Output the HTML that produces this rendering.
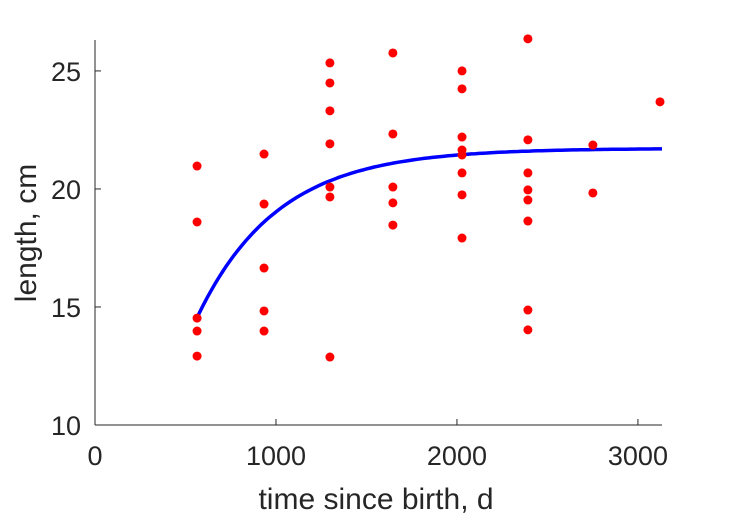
<!DOCTYPE html>
<html><head><meta charset="utf-8"><style>
html,body{margin:0;padding:0;background:#fff;}
svg{display:block;font-family:"Liberation Sans",Arial,sans-serif;}
</style></head><body>
<svg id="chart" width="729" height="521" viewBox="0 0 729 521">
<g id="axes"></g>
<g id="curve"></g>
<g id="pts"></g>
<text x="376" y="509" font-size="30" text-anchor="middle" fill="#262626">time since birth, d</text>
<text transform="translate(36,233) rotate(-90)" font-size="30" text-anchor="middle" fill="#262626">length, cm</text>
</svg>
<script>
const xTicks=[0,1000,2000,3000];
const yTicks=[10,15,20,25];
const ptDays=[564,564,564,564,564,934,934,934,934,934,1298,1298,1298,1298,1298,1298,1298,1646,1646,1646,1646,1646,2028,2028,2028,2028,2028,2028,2028,2028,2392,2392,2392,2392,2392,2392,2392,2392,2751,2751,3122];
const ptLen=[18.6,20.97,12.92,14.53,13.98,21.48,19.36,16.65,14.83,13.98,25.34,24.49,23.31,21.91,20.08,19.66,12.88,25.76,22.33,20.08,19.41,18.47,25.0,24.24,22.2,21.65,21.44,20.68,19.75,17.92,26.36,22.08,20.68,19.96,19.53,18.64,14.87,14.03,21.86,19.83,23.69];
const fitLinf=21.72, fitK=0.00225, fitT0=555, fitL0=14.4, fitTEnd=3133;

const NS="http://www.w3.org/2000/svg";
const X0=95,X1=662,Y0=425,Y1=40;
const xMin=0,xMax=3133,yMin=10,yMax=26.31;
const sx=v=>X0+(v-xMin)/(xMax-xMin)*(X1-X0);
const sy=v=>Y0-(v-yMin)/(yMax-yMin)*(Y0-Y1);
function mk(tag,attrs,parent){const e=document.createElementNS(NS,tag);for(const k in attrs)e.setAttribute(k,attrs[k]);parent.appendChild(e);return e;}
const axes=document.getElementById('axes');
let a=mk('line',{x1:X0,y1:Y0,x2:X1,y2:Y0,stroke:'#262626','stroke-width':1},axes);


a=mk('line',{x1:X0,y1:Y0,x2:X0,y2:Y1,stroke:'#262626','stroke-width':1},axes);


xTicks.forEach(t=>{
 const x=sx(t);
 const l=mk('line',{x1:x,y1:Y0,x2:x,y2:Y0-6,stroke:'#262626'},axes);
 
 
 const tx=mk('text',{x:x,y:Y0+40,'font-size':27,'text-anchor':'middle',fill:'#262626'},axes);
 tx.textContent=t;
 
 
});
yTicks.forEach(t=>{
 const y=sy(t);
 const l=mk('line',{x1:X0,y1:y,x2:X0+6,y2:y,stroke:'#262626'},axes);
 
 
 const tx=mk('text',{x:X0-14,y:y+10,'font-size':27,'text-anchor':'end',fill:'#262626'},axes);
 tx.textContent=t;
 
 
});
let d='';
for(let i=0;i<=120;i++){
 const t=fitT0+(fitTEnd-fitT0)*i/120;
 const L=fitLinf-(fitLinf-fitL0)*Math.exp(-fitK*(t-fitT0));
 d+=(i?'L':'M')+sx(t).toFixed(1)+','+sy(L).toFixed(1);
}
const path=mk('path',{d:d,fill:'none',stroke:'#0000ff','stroke-width':3.5},document.getElementById('curve'));


const pts=document.getElementById('pts');
ptDays.forEach((t,i)=>{
 const c=mk('circle',{cx:sx(t),cy:sy(ptLen[i]),r:4.5,fill:'#ff0000'},pts);
 
 
});
</script>
</body></html>
